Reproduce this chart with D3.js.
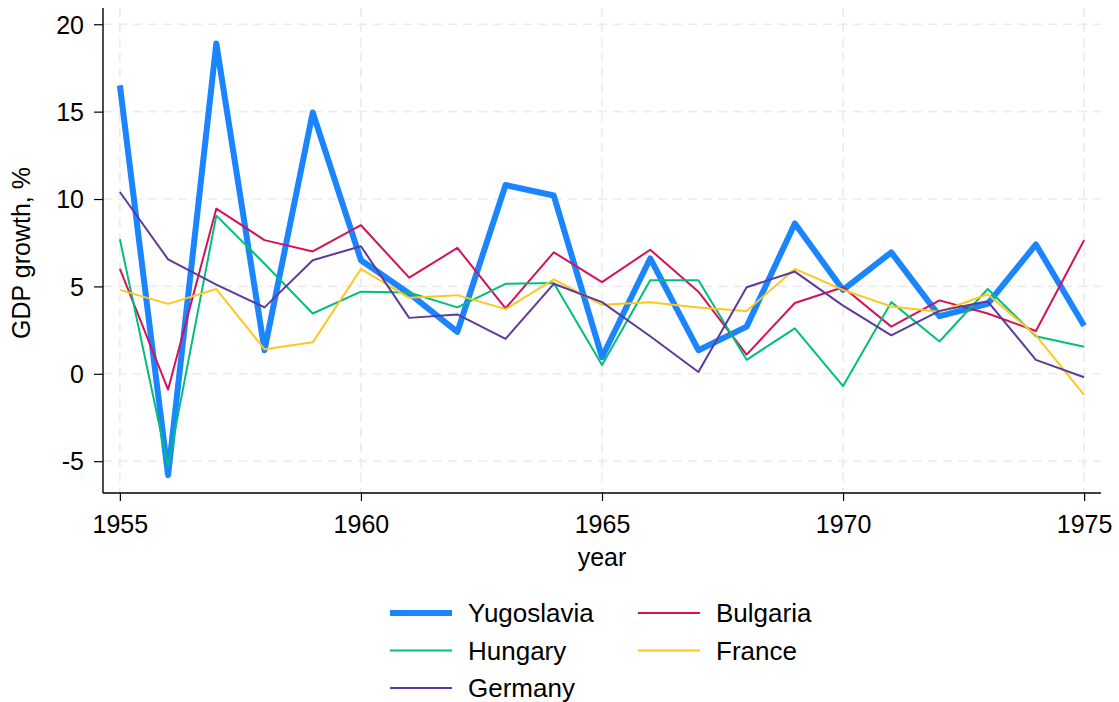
<!DOCTYPE html>
<meta charset="utf-8">
<html>
<head>
<script src="https://d3js.org/d3.v7.min.js"></script>
<style>
  body { margin: 0; background: #fff; }
  text { font-family: "Liberation Sans", Arial, sans-serif; fill: #000; }
</style>
</head>
<body>
<svg id="chart" width="1119" height="702"></svg>
<script>
// data
var years = d3.range(1955, 1976);
var yugoslavia = [16.5, -5.8, 18.9, 1.35, 14.95, 6.5, 4.6, 2.4, 10.8, 10.2, 0.95, 6.6, 1.35, 2.7, 8.6, 4.8, 6.95, 3.3, 4.0, 7.4, 2.75];
var bulgaria   = [6.0, -0.9, 9.45, 7.65, 7.0, 8.5, 5.5, 7.2, 3.75, 6.95, 5.25, 7.1, 4.7, 1.1, 4.05, 4.95, 2.7, 4.2, 3.45, 2.45, 7.65];
var hungary    = [7.7, -5.3, 9.05, 6.3, 3.45, 4.7, 4.65, 3.8, 5.15, 5.2, 0.5, 5.35, 5.35, 0.8, 2.6, -0.7, 4.1, 1.85, 4.85, 2.15, 1.55];
var france     = [4.8, 4.0, 4.85, 1.4, 1.8, 6.0, 4.35, 4.5, 3.7, 5.4, 3.95, 4.1, 3.8, 3.6, 6.0, 4.8, 3.85, 3.55, 4.55, 2.2, -1.2];
var germany    = [10.4, 6.55, 5.1, 3.8, 6.5, 7.3, 3.2, 3.4, 2.0, 5.15, 4.1, 2.15, 0.1, 4.95, 5.85, 3.9, 2.2, 3.6, 4.15, 0.8, -0.2];

var yTicks = [-5, 0, 5, 10, 15, 20];
var xTicks = [1955, 1960, 1965, 1970, 1975];

// drawing order (Yugoslavia underneath)
var series = [
  {name: "Yugoslavia", values: yugoslavia, color: "#1a85ff", width: 6},
  {name: "Bulgaria",   values: bulgaria,   color: "#d41159", width: 2},
  {name: "Hungary",    values: hungary,    color: "#00bf7d", width: 2},
  {name: "France",     values: france,     color: "#ffc61e", width: 2},
  {name: "Germany",    values: germany,    color: "#5d3a9b", width: 2}
];
// legend order: two columns, filled row by row
var legendOrder = ["Yugoslavia", "Bulgaria", "Hungary", "France", "Germany"];

var svg = d3.select("#chart");
var pLeft = 103, pRight = 1101, pTop = 8, pBottom = 493;
var fs = 25;

var x = d3.scaleLinear().domain([1954.65, 1975.35]).range([pLeft, pRight]);
var y = d3.scaleLinear().domain([-6.82, 20.93]).range([pBottom, pTop]);

// grid
var grid = svg.append("g").attr("stroke", "#ebebeb").attr("stroke-width", 1.6)
  .attr("stroke-dasharray", "9,6");
grid.selectAll(".hg").data(yTicks).enter().append("line")
  .attr("x1", pLeft).attr("x2", pRight)
  .attr("y1", d => y(d)).attr("y2", d => y(d));
grid.selectAll(".vg").data(xTicks).enter().append("line")
  .attr("y1", pTop).attr("y2", pBottom)
  .attr("x1", d => x(d)).attr("x2", d => x(d));

// axes (hyphen for negatives, like the original)
var yAxis = d3.axisLeft(y).tickValues(yTicks).tickSize(9).tickPadding(10)
  .tickFormat(d => String(d));
var xAxis = d3.axisBottom(x).tickValues(xTicks).tickFormat(d => String(d)).tickSize(8).tickPadding(5);

var gy = svg.append("g").attr("transform", "translate(" + pLeft + ",0)").call(yAxis);
var gx = svg.append("g").attr("transform", "translate(0," + pBottom + ")").call(xAxis);
[gy, gx].forEach(function (g) {
  g.select(".domain").attr("stroke", "#000").attr("stroke-width", 1.4);
  g.selectAll(".tick line").attr("stroke", "#000").attr("stroke-width", 1.2);
  g.selectAll("text").attr("font-size", fs).attr("fill", "#000")
    .style("font-family", "'Liberation Sans', Arial, sans-serif");
});
gy.select(".domain").attr("d", "M0," + pTop + "V" + pBottom);
gx.select(".domain").attr("d", "M" + pLeft + ",0H" + pRight);
gx.selectAll(".tick text").attr("dy", null).attr("y", 40);
gy.selectAll(".tick text").attr("dy", "0.35em");

// lines
var line = d3.line().x((d, i) => x(years[i])).y(d => y(d));
svg.append("g").selectAll("path").data(series).enter().append("path")
  .attr("d", d => line(d.values))
  .attr("fill", "none")
  .attr("stroke", d => d.color)
  .attr("stroke-width", d => d.width)
  .attr("stroke-linejoin", "round");

// axis titles
svg.append("text").attr("x", x(1965)).attr("y", 566)
  .attr("text-anchor", "middle").attr("font-size", fs).text("year");
svg.append("text").attr("transform", "translate(30,253) rotate(-90)")
  .attr("text-anchor", "middle").attr("font-size", fs).text("GDP growth, %");

// legend
var lg = svg.append("g");
legendOrder.forEach(function (name, i) {
  var s = series.find(d => d.name === name);
  var col = i % 2, row = Math.floor(i / 2);
  var lx = col === 0 ? 390 : 638;
  var ly = 613 + row * 37.5;
  lg.append("line").attr("x1", lx).attr("x2", lx + 62)
    .attr("y1", ly).attr("y2", ly)
    .attr("stroke", s.color).attr("stroke-width", s.width);
  lg.append("text").attr("x", lx + 78).attr("y", ly + 9)
    .attr("font-size", 26).text(name);
});
</script>
</body>
</html>
